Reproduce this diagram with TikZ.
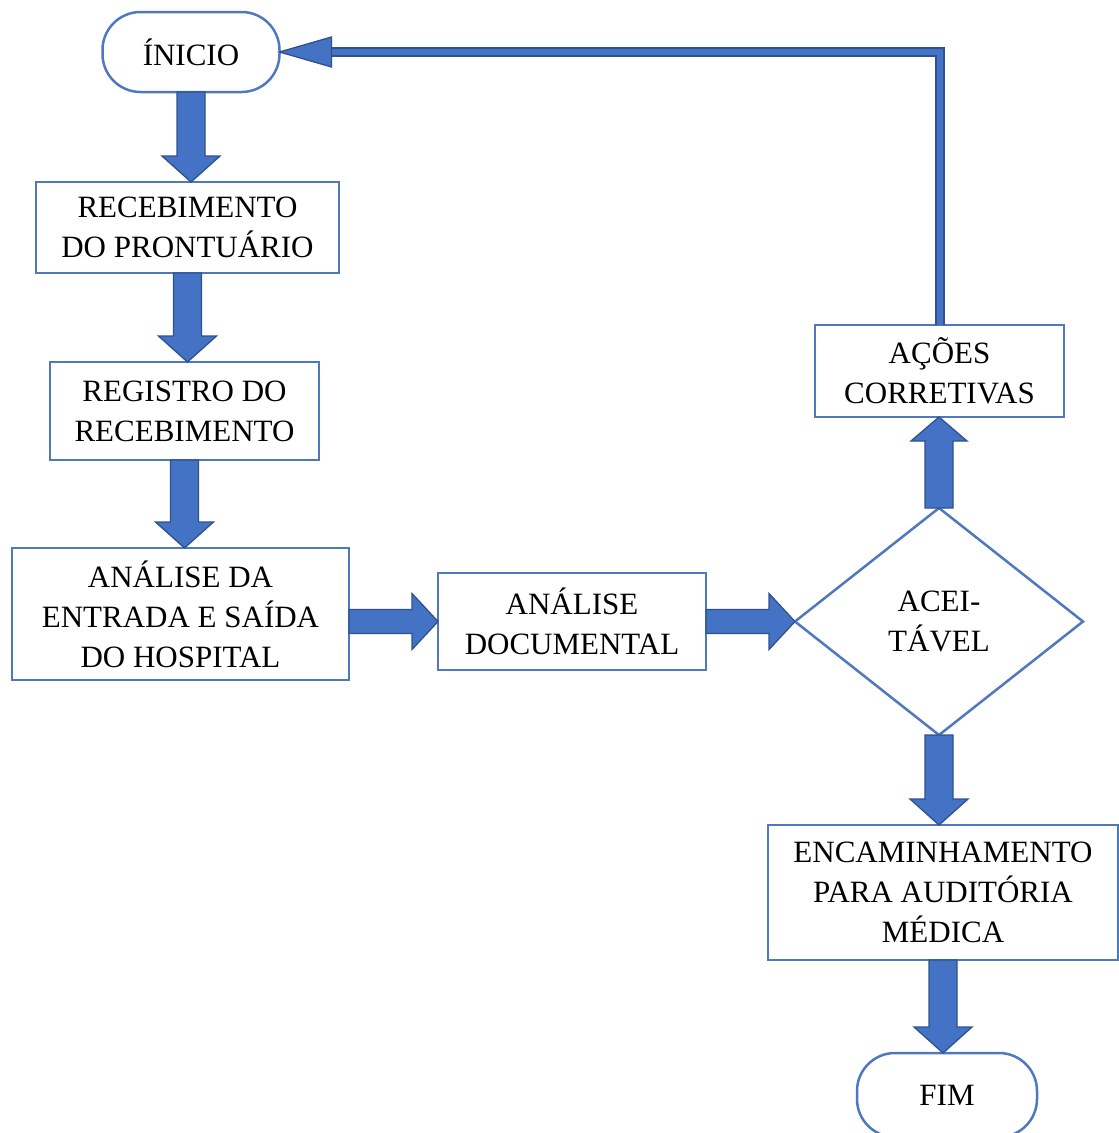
\documentclass[tikz,border=0pt]{standalone}
\usepackage{fontspec}
\setmainfont{Liberation Serif}
\usetikzlibrary{shapes.geometric,calc}
\definecolor{boxline}{RGB}{79,120,190}
\definecolor{arrfill}{RGB}{68,114,196}
\definecolor{arrline}{RGB}{47,82,143}
\tikzset{
  base/.style={draw=boxline, line width=2.5pt, fill=white, inner sep=0pt, outer sep=0pt,
    align=center, font=\fontsize{31}{40}\selectfont},
  procbox/.style={base, rectangle},
  termbox/.style={base, rectangle, rounded corners=38pt},
  decbox/.style={base, diamond},
  blk/.style={fill=arrfill, draw=arrline, line width=1.3pt, line join=miter},
  fb/.style={draw=arrline, line width=2pt, double=arrfill, double distance=6pt, line join=miter}
}
\newcommand\blkdown[2]{\filldraw[blk] let \p1=(#1.south), \p2=(#2.north) in
  (\x1-14pt,\y1) -- (\x1+14pt,\y1) -- (\x1+14pt,\y2+26pt) -- (\x1+29pt,\y2+26pt) -- (\x1,\y2)
  -- (\x1-29pt,\y2+26pt) -- (\x1-14pt,\y2+26pt) -- cycle;}
\newcommand\blkup[2]{\filldraw[blk] let \p1=(#1.north), \p2=(#2.south) in
  (\x1-14pt,\y1) -- (\x1+14pt,\y1) -- (\x1+14pt,\y2-24pt) -- (\x1+28pt,\y2-24pt) -- (\x1,\y2)
  -- (\x1-28pt,\y2-24pt) -- (\x1-14pt,\y2-24pt) -- cycle;}
\newcommand\blkright[2]{\filldraw[blk] let \p1=(#1.east), \p2=(#2.west) in
  (\x1,\y2+12pt) -- (\x2-26pt,\y2+12pt) -- (\x2-26pt,\y2+28pt) -- (\x2,\y2)
  -- (\x2-26pt,\y2-28pt) -- (\x2-26pt,\y2-12pt) -- (\x1,\y2-12pt) -- cycle;}
\begin{document}
\begin{tikzpicture}[x=1pt,y=-1pt]
\useasboundingbox[fill=white] (0,0) rectangle (1119,1133);

\node[termbox, minimum width=177pt, minimum height=80pt] (start) at (191,52) {ÍNICIO};
\node[procbox, minimum width=303pt, minimum height=91pt] (rec) at (187.5,227.5) {RECEBIMENTO\\DO PRONTUÁRIO};
\node[procbox, minimum width=269pt, minimum height=98pt] (reg) at (184.5,411) {REGISTRO DO\\RECEBIMENTO};
\node[procbox, minimum width=337pt, minimum height=132pt] (ana) at (180.5,614) {ANÁLISE DA\\ENTRADA E SAÍDA\\DO HOSPITAL};
\node[procbox, minimum width=268pt, minimum height=97pt] (doc) at (572,621.5) {ANÁLISE\\DOCUMENTAL};
\node[decbox, minimum width=288pt, minimum height=227pt] (dia) at (939,621.5) {ACEI-\\TÁVEL};
\node[procbox, minimum width=249pt, minimum height=92pt] (act) at (939.5,371) {AÇÕES\\CORRETIVAS};
\node[procbox, minimum width=350pt, minimum height=135pt] (enc) at (943,892.5) {ENCAMINHAMENTO\\PARA AUDITÓRIA\\MÉDICA};
\node[termbox, minimum width=180pt, minimum height=84pt] (fim) at (947,1095) {FIM};

\blkdown{start}{rec}
\blkdown{rec}{reg}
\blkdown{reg}{ana}
\blkright{ana}{doc}
\blkright{doc}{dia}
\blkup{dia}{act}
\blkdown{dia}{enc}
\blkdown{enc}{fim}

\coordinate (fbend) at ($(start.east)+(50pt,0)$);
\draw[fb] (act.north) |- (fbend);
\filldraw[blk] (start.east) -- ($(start.east)+(52pt,15pt)$) -- ($(start.east)+(52pt,-15pt)$) -- cycle;
\end{tikzpicture}
\end{document}
